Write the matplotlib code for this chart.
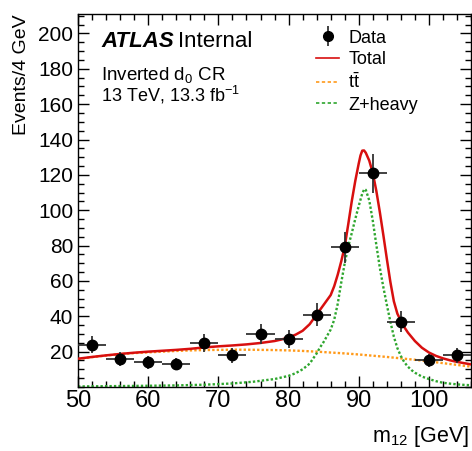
import matplotlib
matplotlib.use("Agg")
import matplotlib.pyplot as plt
from matplotlib.lines import Line2D
from matplotlib.legend_handler import HandlerTuple
from matplotlib.ticker import MultipleLocator

plt.rcParams.update({
    "font.family": ["Liberation Sans", "DejaVu Sans"],
    "mathtext.fontset": "custom",
    "mathtext.rm": "Liberation Sans",
    "mathtext.it": "Liberation Sans:italic",
    "mathtext.bf": "Liberation Sans:bold",
})

# Observed events per 4 GeV bin
bin_centers = [52, 56, 60, 64, 68, 72, 76, 80, 84, 88, 92, 96, 100, 104]
counts = [24, 16, 14, 13, 25, 18, 30, 27, 41, 79, 121, 37, 15, 18]
count_err = [4.9, 4.0, 3.7, 3.6, 5.0, 4.2, 5.5, 5.2, 6.4, 8.9, 11.0, 6.1, 3.9, 4.2]
bin_half = [2] * len(bin_centers)

# ttbar template
tt_mass = [50, 52, 54, 56, 58, 60, 62, 64, 66, 68, 70, 72, 74, 76, 78, 80,
           82, 84, 86, 88, 90, 92, 94, 96, 98, 100, 102, 104, 106]
tt_vals = [15.8, 16.9, 17.8, 18.6, 19.2, 19.6, 20.0, 20.4, 20.7, 20.9, 21.0,
           21.1, 21.1, 21.0, 20.9, 20.7, 20.4, 20.0, 19.5, 19.0, 18.4, 17.7,
           17.0, 16.2, 15.4, 14.5, 13.5, 12.5, 11.5]

# Z+heavy template
z_mass = [50, 55, 60, 64, 68, 72, 75, 78, 80, 81, 82, 83, 84, 84.5, 85, 85.5,
          86, 86.5, 87, 87.5, 88, 88.5, 89, 89.5, 90, 90.5, 90.8, 91, 91.5,
          92, 92.5, 93, 93.5, 94, 94.5, 95, 95.5, 96, 96.5, 97, 97.5, 98, 99,
          100, 101, 102, 103, 104, 105, 106]
z_vals = [0.3, 0.5, 0.7, 0.9, 1.3, 2.0, 3.0, 4.5, 6.3, 7.8, 10.0, 13.2, 19.0,
          22.5, 25.5, 29.0, 32.5, 38.0, 47.0, 59.0, 70.0, 79.5, 87.0, 95.0,
          102.5, 109.5, 112.0, 111.5, 105.5, 94.0, 80.5, 67.5, 56.5, 46.5,
          37.0, 28.5, 22.0, 17.5, 14.0, 11.5, 9.6, 8.1, 5.9, 4.5, 3.3, 2.4,
          1.9, 1.5, 1.2, 1.0]

# total fit
tot_mass = [50, 52, 54, 56, 58, 60, 62, 64, 66, 68, 70, 72, 74, 76, 78, 79, 80,
            81, 82, 83, 84, 85, 86, 86.5, 87, 87.5, 88, 88.5, 89, 89.5, 90,
            90.25, 90.5, 90.75, 91, 91.5, 92, 92.5, 93, 93.5, 94, 94.5, 95,
            95.5, 96, 96.5, 97, 98, 99, 100, 101, 102, 103, 104, 105, 106]
tot_vals = [16.0, 17.0, 17.9, 18.7, 19.4, 20.0, 20.5, 21.0, 21.6, 22.4, 23.0,
            23.5, 24.1, 24.9, 26.0, 26.9, 28.0, 29.6, 31.8, 35.5, 41.0, 46.5,
            52.0, 57.0, 63.5, 71.0, 79.5, 92.0, 105.0, 116.5, 126.5, 131.0,
            133.7, 133.8, 132.5, 128.0, 121.0, 111.0, 99.0, 86.0, 72.5, 59.5,
            48.5, 41.5, 37.4, 33.8, 30.8, 26.0, 22.2, 19.5, 17.6, 16.2, 15.1,
            14.2, 13.5, 12.8]

RED = "#d80f0f"
ORANGE = "#ff9a1a"
GREEN = "#2ea62e"
DOT = (0, (1, 0.9))

fig = plt.figure(figsize=(4.72, 4.51), dpi=100)
ax = fig.add_axes([0.1653, 0.1419, 0.8327, 0.8271])

ax.plot(tt_mass, tt_vals, color=ORANGE, lw=1.7, ls=DOT, dash_capstyle="butt", zorder=2)
ax.plot(z_mass, z_vals, color=GREEN, lw=1.7, ls=DOT, dash_capstyle="butt", zorder=2)
ax.plot(tot_mass, tot_vals, color=RED, lw=1.8, zorder=3)
ax.errorbar(bin_centers, counts, xerr=bin_half, yerr=count_err, fmt="o",
            color="black", ecolor="#333333", elinewidth=1.3, capsize=0,
            markersize=7.5, zorder=4)

ax.set_xlim(50, 106)
ax.set_ylim(0, 211)
ax.xaxis.set_major_locator(MultipleLocator(10))
ax.xaxis.set_minor_locator(MultipleLocator(2))
ax.yaxis.set_minor_locator(MultipleLocator(5))
ax.set_yticks([20, 40, 60, 80, 100, 120, 140, 160, 180, 200])
ax.tick_params(which="both", direction="in", top=True, right=True, width=1.0)
ax.tick_params(which="major", length=8)
ax.tick_params(axis="y", which="major", pad=3.5, labelsize=15)
ax.tick_params(axis="x", which="major", pad=2.5, labelsize=17)
ax.tick_params(which="minor", length=4)
for s in ax.spines.values():
    s.set_linewidth(1.0)

ax.set_ylabel("Events/4 GeV", fontsize=14, loc="top", labelpad=6)
xlab = ax.set_xlabel("m$_{12}$ [GeV]", fontsize=15.5, loc="right", labelpad=8)
xlab.set_x(0.995)

atlas = ax.text(0.0585, 0.9115, "ATLAS", transform=ax.transAxes, fontsize=16,
                fontweight="bold", fontstyle="italic", va="baseline")
ax.annotate("Internal", xy=(1, 0), xycoords=atlas, xytext=(3, 0),
            textcoords="offset points", fontsize=16, va="bottom")
ax.text(0.0585, 0.824, "Inverted d$_0$ CR", transform=ax.transAxes,
        fontsize=13.5, va="baseline")
ax.text(0.0585, 0.766, "13 TeV, 13.3 fb$^{-1}$", transform=ax.transAxes,
        fontsize=13, va="baseline")

data_handle = (Line2D([], [], marker="|", markersize=14, mew=1.3, ls="none", color="#333333"),
               Line2D([], [], marker="o", markersize=7, ls="none", color="black"))
handles = [
    data_handle,
    Line2D([], [], color=RED, lw=1.2),
    Line2D([], [], color=ORANGE, lw=1.2, ls=(0, (2, 1.5))),
    Line2D([], [], color=GREEN, lw=1.2, ls=(0, (2, 1.5))),
]
labels = ["Data", "Total", r"$\mathrm{t\bar{t}}$", "Z+heavy"]
ax.legend(handles, labels, loc="upper left", bbox_to_anchor=(0.605, 0.958),
          frameon=False, fontsize=13, handlelength=1.3, handletextpad=0.5,
          labelspacing=0.25, borderpad=0, borderaxespad=0,
          handler_map={tuple: HandlerTuple(ndivide=1)})

fig.savefig("out.png", dpi=100)
